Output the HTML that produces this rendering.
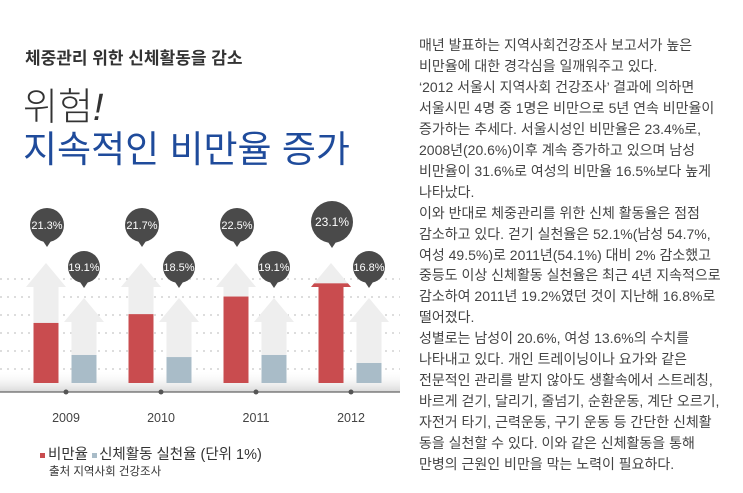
<!DOCTYPE html>
<html><head><meta charset="utf-8">
<style>
body{margin:0;background:#fff;width:743px;height:493px;overflow:hidden;position:relative;font-family:"Liberation Sans","Noto Sans CJK KR",sans-serif;}
.t{position:absolute;white-space:nowrap;}
#body p{margin:0;}
</style></head><body>
<div class="t" style="left:25px;top:44px;font-size:17px;font-weight:bold;color:#333;">체중관리 위한 신체활동을 감소</div>
<div class="t" style="left:23px;top:76px;font-size:38px;font-weight:300;color:#333;">위험<i style="font-weight:normal">!</i></div>
<div class="t" style="left:23px;top:119px;font-size:37px;color:#1f4b9b;">지속적인 비만율 증가</div>

<svg id="chart" width="400" height="493" style="position:absolute;left:0;top:0">
<defs>
<linearGradient id="sh" x1="0" y1="0" x2="0" y2="1"><stop offset="0" stop-color="#fff" stop-opacity="0"/><stop offset="1" stop-color="#d8d8d8"/></linearGradient>
</defs>
<g id="grid"></g>
<rect x="0" y="370" width="400" height="22" fill="url(#sh)"/>
<g id="marks"></g>
<line x1="0" y1="392" x2="400" y2="392" stroke="#666" stroke-width="1.2"/>
<g id="labels"></g>
</svg>

<div class="t" style="left:40px;top:443px;font-size:14.5px;color:#333;"><span style="display:inline-block;width:5px;height:5px;background:#c94c4f;vertical-align:middle;margin-right:3px"></span>비만율 <span style="display:inline-block;width:5px;height:5px;background:#a9bcc8;vertical-align:middle;margin-right:2px"></span>신체활동 실천율 (단위 1%)</div>
<div class="t" style="left:49px;top:463px;font-size:11.5px;color:#333;">출처 지역사회 건강조사</div>

<div id="body" class="t" style="left:419px;top:35px;font-size:14px;line-height:20.95px;color:#444;">
<p>매년 발표하는 지역사회건강조사 보고서가 높은</p>
<p>비만율에 대한 경각심을 일깨워주고 있다.</p>
<p>‘2012 서울시 지역사회 건강조사’ 결과에 의하면</p>
<p>서울시민 4명 중 1명은 비만으로 5년 연속 비만율이</p>
<p>증가하는 추세다. 서울시성인 비만율은 23.4%로,</p>
<p>2008년(20.6%)이후 계속 증가하고 있으며 남성</p>
<p>비만율이 31.6%로 여성의 비만율 16.5%보다 높게</p>
<p>나타났다.</p>
<p>이와 반대로 체중관리를 위한 신체 활동율은 점점</p>
<p>감소하고 있다. 걷기 실천율은 52.1%(남성 54.7%,</p>
<p>여성 49.5%)로 2011년(54.1%) 대비 2% 감소했고</p>
<p>중등도 이상 신체활동 실천율은 최근 4년 지속적으로</p>
<p>감소하여 2011년 19.2%였던 것이 지난해 16.8%로</p>
<p>떨어졌다.</p>
<p>성별로는 남성이 20.6%, 여성 13.6%의 수치를</p>
<p>나타내고 있다. 개인 트레이닝이나 요가와 같은</p>
<p>전문적인 관리를 받지 않아도 생활속에서 스트레칭,</p>
<p>바르게 걷기, 달리기, 줄넘기, 순환운동, 계단 오르기,</p>
<p>자전거 타기, 근력운동, 구기 운동 등 간단한 신체활</p>
<p>동을 실천할 수 있다. 이와 같은 신체활동을 통해</p>
<p>만병의 근원인 비만을 막는 노력이 필요하다.</p>
</div>

<script>
const years = ["2009","2010","2011","2012"];
const obesity = [21.3, 21.7, 22.5, 23.1];
const activity = [19.1, 18.5, 19.1, 16.8];
const gridLevels = [1,2,3,4,5,6];

const NS="http://www.w3.org/2000/svg";
const base=383;
function groupX(i){return 46+i*95;}
function redH(v){return 22*(v-18.57);}
function blueH(v){return 3.48*(v-11.05);}
function gridY(k){return 387-k*18;}
function mk(tag,attrs,parent){const e=document.createElementNS(NS,tag);for(const k in attrs)e.setAttribute(k,attrs[k]);parent.appendChild(e);return e;}
const grid=document.getElementById('grid'),marks=document.getElementById('marks'),labels=document.getElementById('labels');
gridLevels.forEach(k=>{
  const l=mk('line',{x1:0,x2:400,y1:gridY(k),y2:gridY(k),stroke:'#bbb','stroke-dasharray':'2 5','stroke-width':1},grid);
  
  
});
function arrowPath(cx,tip,headBase,w,hw){
  return `M${cx-w/2},${base} L${cx-w/2},${headBase} L${cx-hw/2},${headBase} L${cx},${tip} L${cx+hw/2},${headBase} L${cx+w/2},${headBase} L${cx+w/2},${base} Z`;
}
function bubble(cx,cy,r,txt,name){
  const g=mk('g',{},labels);
  
  
  mk('path',{d:`M${cx-6},${cy+r-4} L${cx},${cy+r+5} L${cx+6},${cy+r-4} Z`,fill:'#4a4a4a'},g);
  mk('circle',{cx:cx,cy:cy,r:r,fill:'#4a4a4a'},g);
  const t=mk('text',{x:cx,y:cy+4,'text-anchor':'middle','font-size':r>18?12:11,fill:'#fff','font-family':'Liberation Sans, sans-serif'},g);
  t.textContent=txt;
}
years.forEach((y,i)=>{
  const rx=groupX(i), bx=rx+38;
  // red arrow
  const id='c'+i;
  const cp=mk('clipPath',{id:id},marks);
  mk('path',{d:arrowPath(rx,263,287,25,40)},cp);
  const a=mk('path',{d:arrowPath(rx,263,287,25,40),fill:'#eeeeee'},marks);
  
  
  const h=redH(obesity[i]);
  const r=mk('rect',{x:rx-22,y:base-h,width:44,height:h,fill:'#c94c4f','clip-path':'url(#'+id+')'},marks);
  
  
  // blue arrow
  const b=mk('path',{d:arrowPath(bx,298,322,25,40),fill:'#eeeeee'},marks);
  
  
  const bh=blueH(activity[i]);
  const br=mk('rect',{x:bx-12.5,y:base-bh,width:25,height:bh,fill:'#a9bcc8'},marks);
  
  
  const big=i===years.length-1;
  bubble(rx+1,big?222:225,big?21:17,obesity[i].toFixed(1)+'%','obesity-label-'+y);
  bubble(bx,267,16,activity[i].toFixed(1)+'%','activity-label-'+y);
  const d=mk('circle',{cx:rx+20,cy:392,r:2.5,fill:'#555'},labels);
  
  
  const t=mk('text',{x:rx+20,y:422,'text-anchor':'middle','font-size':12.5,fill:'#444','font-family':'Liberation Sans, sans-serif'},labels);
  
  
  t.textContent=y;
});
</script>
</body></html>
